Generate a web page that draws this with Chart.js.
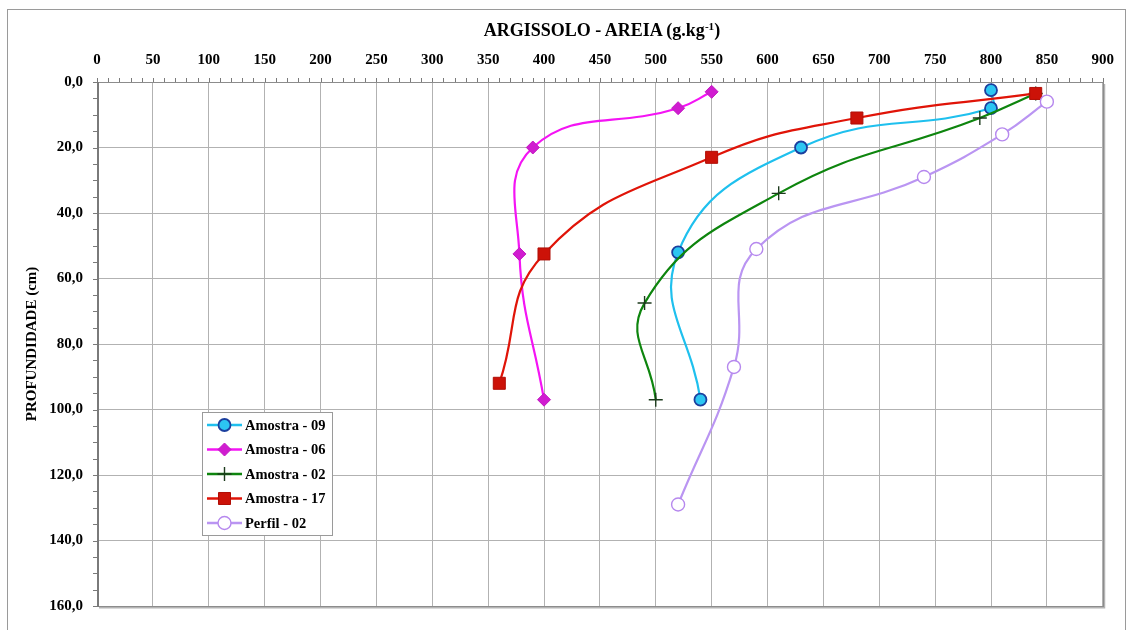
<!DOCTYPE html>
<html>
<head>
<meta charset="utf-8">
<title>ARGISSOLO - AREIA</title>
<script src="https://cdn.jsdelivr.net/npm/chart.js@4.4.1/dist/chart.umd.min.js"></script>
<style>
  html, body { margin: 0; padding: 0; background: #fff; }
  #wrap { position: relative; width: 1127px; height: 630px; }
  #plot { position: absolute; left: 0; top: 0; }
  #title {
    position: absolute; left: 602px; top: 19px; transform: translateX(-50%);
    font: bold 18px "Liberation Serif", "Times New Roman", serif; color: #000;
    white-space: nowrap; line-height: 22px;
  }
  #title sup { font-size: 0.62em; line-height: 0; vertical-align: 0.55em; }
</style>
</head>
<body>
<div id="wrap">
  <canvas id="plot" width="1127" height="630"></canvas>
  <div id="title">ARGISSOLO - AREIA (g.kg<sup>-1</sup>)</div>
</div>
<script>
// Sand content (g/kg) against sampling depth (cm) for each profile
const seriesNames = ['Amostra - 09', 'Amostra - 06', 'Amostra - 02', 'Amostra - 17', 'Perfil - 02'];

const sand09  = [800, 800, 630, 520, 540];
const depth09 = [2.5, 8, 20, 52, 97];

const sand06  = [550, 520, 390, 378, 400];
const depth06 = [3, 8, 20, 52.5, 97];

const sand02  = [840, 790, 610, 490, 500];
const depth02 = [3.5, 11, 34, 67.5, 97];

const sand17  = [840, 680, 550, 400, 360];
const depth17 = [3.5, 11, 23, 52.5, 92];

const sandP02  = [850, 810, 740, 590, 570, 520];
const depthP02 = [6, 16, 29, 51, 87, 129];

// axis ranges and tick steps
const sandRange = [0, 900];
const sandStep = 50;
const sandMinorStep = 10;
const depthRange = [0, 160];
const depthStep = 20;
const depthMinorStep = 5;

const SERIF = '"Liberation Serif", "Times New Roman", serif';

function pairs(xs, ys) {
  return xs.map((x, i) => ({ x: x, y: ys[i] }));
}

const styles = [
  { line: '#1fc0ee', fill: '#2cc6f2', border: '#1b3f9e', point: 'circle',  radius: 6,   bw: 1.8 },
  { line: '#f414f4', fill: '#d01cd0', border: '#c21ac2', point: 'rectRot', radius: 6.5, bw: 1 },
  { line: '#0e850e', fill: '#1c3a1c', border: '#1c3a1c', point: 'cross',   radius: 7,   bw: 1.4 },
  { line: '#e01408', fill: '#cc1208', border: '#b00e06', point: 'rect',    radius: 8.5, bw: 1 },
  { line: '#ba95f2', fill: '#ffffff', border: '#b688ee', point: 'circle',  radius: 6.5, bw: 1.4 }
];

const seriesData = [
  pairs(sand09, depth09),
  pairs(sand06, depth06),
  pairs(sand02, depth02),
  pairs(sand17, depth17),
  pairs(sandP02, depthP02)
];

const datasets = seriesNames.map((name, i) => ({
  label: name,
  data: seriesData[i],
  showLine: true,
  tension: 0.45,
  borderColor: styles[i].line,
  borderWidth: 2.2,
  pointStyle: styles[i].point,
  pointRadius: styles[i].radius,
  pointHoverRadius: styles[i].radius,
  pointBackgroundColor: styles[i].fill,
  pointBorderColor: styles[i].border,
  pointBorderWidth: styles[i].bw,
  order: seriesNames.length - i
}));

function drawMarker(ctx, s, x, y) {
  ctx.save();
  ctx.fillStyle = s.fill;
  ctx.strokeStyle = s.border;
  ctx.lineWidth = s.bw;
  ctx.beginPath();
  const r = s.radius;
  if (s.point === 'circle') {
    ctx.arc(x, y, r, 0, Math.PI * 2);
    ctx.fill(); ctx.stroke();
  } else if (s.point === 'rectRot') {
    ctx.moveTo(x - r, y); ctx.lineTo(x, y - r); ctx.lineTo(x + r, y); ctx.lineTo(x, y + r);
    ctx.closePath(); ctx.fill(); ctx.stroke();
  } else if (s.point === 'rect') {
    const h = Math.SQRT1_2 * r;
    ctx.rect(x - h, y - h, 2 * h, 2 * h);
    ctx.fill(); ctx.stroke();
  } else if (s.point === 'cross') {
    ctx.moveTo(x, y - r); ctx.lineTo(x, y + r);
    ctx.moveTo(x - r, y); ctx.lineTo(x + r, y);
    ctx.stroke();
  }
  ctx.restore();
}

const framePlugin = {
  id: 'frame',
  beforeDraw(chart) {
    const ctx = chart.ctx;
    ctx.save();
    ctx.fillStyle = '#ffffff';
    ctx.fillRect(0, 0, chart.width, chart.height);
    ctx.strokeStyle = '#9a9a9a';
    ctx.lineWidth = 1;
    ctx.strokeRect(7.5, 9.5, 1118, 660);
    ctx.restore();
  },
  beforeDatasetsDraw(chart) {
    const ctx = chart.ctx;
    const a = chart.chartArea;
    const xs = chart.scales.x, ys = chart.scales.y;
    ctx.save();
    // shadow on the right and bottom edges of the plot area
    ctx.strokeStyle = '#b4b4b4';
    ctx.lineWidth = 2;
    ctx.beginPath();
    ctx.moveTo(a.right + 1.5, a.top + 2);
    ctx.lineTo(a.right + 1.5, a.bottom + 1.5);
    ctx.lineTo(a.left + 2, a.bottom + 1.5);
    ctx.stroke();
    // plot area frame
    ctx.strokeStyle = '#8c8c8c';
    ctx.lineWidth = 1;
    ctx.strokeRect(Math.round(a.left) + 0.5, Math.round(a.top) + 0.5,
                   Math.round(a.right - a.left), Math.round(a.bottom - a.top));
    // left value axis
    ctx.strokeStyle = '#7a7a7a';
    ctx.lineWidth = 2;
    ctx.beginPath();
    ctx.moveTo(Math.round(a.left) + 1, a.top);
    ctx.lineTo(Math.round(a.left) + 1, a.bottom + 1);
    ctx.stroke();
    // tick marks on the top axis
    ctx.strokeStyle = '#7a7a7a';
    ctx.lineWidth = 1;
    ctx.beginPath();
    for (let v = sandRange[0]; v <= sandRange[1]; v += sandMinorStep) {
      const px = Math.round(xs.getPixelForValue(v)) + 0.5;
      ctx.moveTo(px, a.top - 4);
      ctx.lineTo(px, a.top);
    }
    // tick marks on the left axis
    for (let v = depthRange[0]; v <= depthRange[1]; v += depthMinorStep) {
      const py = Math.round(ys.getPixelForValue(v)) + 0.5;
      ctx.moveTo(a.left - 4, py);
      ctx.lineTo(a.left, py);
    }
    ctx.stroke();
    ctx.restore();
  },
  afterDraw(chart) {
    const ctx = chart.ctx;
    const a = chart.chartArea;
    ctx.save();
    // vertical axis title
    ctx.translate(32, (a.top + a.bottom) / 2);
    ctx.rotate(-Math.PI / 2);
    ctx.fillStyle = '#000';
    ctx.font = 'bold 15px ' + SERIF;
    ctx.textAlign = 'center';
    ctx.textBaseline = 'middle';
    ctx.fillText('PROFUNDIDADE (cm)', 0, 0);
    ctx.restore();

    // legend box
    ctx.save();
    const bx = 202.5, by = 412.5, bw = 130, bh = 123;
    ctx.fillStyle = '#ffffff';
    ctx.fillRect(bx, by, bw, bh);
    ctx.strokeStyle = '#9a9a9a';
    ctx.lineWidth = 1;
    ctx.strokeRect(bx, by, bw, bh);
    ctx.font = 'bold 14.5px ' + SERIF;
    ctx.textBaseline = 'middle';
    ctx.textAlign = 'left';
    seriesNames.forEach((name, i) => {
      const y = 425 + i * 24.5;
      const s = styles[i];
      ctx.strokeStyle = s.line;
      ctx.lineWidth = 2.6;
      ctx.beginPath();
      ctx.moveTo(207, y);
      ctx.lineTo(242, y);
      ctx.stroke();
      drawMarker(ctx, s, 224.5, y);
      ctx.fillStyle = '#000';
      ctx.fillText(name, 245, y + 1);
    });
    ctx.restore();
  }
};

new Chart(document.getElementById('plot'), {
  type: 'scatter',
  data: { datasets: datasets },
  plugins: [framePlugin],
  options: {
    responsive: false,
    animation: false,
    events: [],
    layout: { padding: { left: 0, top: 0, right: 21, bottom: 24 } },
    plugins: {
      legend: { display: false },
      tooltip: { enabled: false },
      title: { display: false }
    },
    scales: {
      x: {
        type: 'linear',
        position: 'top',
        min: sandRange[0],
        max: sandRange[1],
        afterFit(scale) { scale.height = 82; },
        border: { display: false },
        grid: { color: '#b2b2b2', lineWidth: 1, drawTicks: false },
        ticks: {
          stepSize: sandStep,
          padding: 13,
          color: '#000',
          maxRotation: 0,
          autoSkip: false,
          font: { family: SERIF, size: 15, weight: 'bold' }
        }
      },
      y: {
        type: 'linear',
        position: 'left',
        reverse: true,
        min: depthRange[0],
        max: depthRange[1],
        afterFit(scale) { scale.width = 97; },
        border: { display: false },
        grid: { color: '#b2b2b2', lineWidth: 1, drawTicks: false },
        ticks: {
          stepSize: depthStep,
          padding: 14,
          color: '#000',
          autoSkip: false,
          font: { family: SERIF, size: 15, weight: 'bold' },
          callback: (v) => Number(v).toFixed(1).replace('.', ',')
        }
      }
    }
  }
});
</script>
</body>
</html>
